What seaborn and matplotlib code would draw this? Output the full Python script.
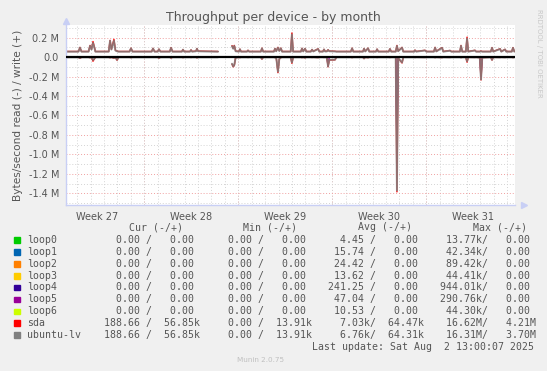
import numpy as np
import pandas as pd
import matplotlib
matplotlib.use("Agg")
import matplotlib.pyplot as plt
import seaborn as sns
from matplotlib.patches import Rectangle
from matplotlib.ticker import FixedLocator, MultipleLocator, FuncFormatter

nan = np.nan

# time in days (day 0 = start of week 27), values in kB/s
days = [1.17, 2.10, 2.21, 2.32, 2.85, 2.96, 3.07, 3.18, 3.27, 3.36,
        4.35, 4.45, 4.55, 4.74, 4.85, 4.97, 5.08, 5.90, 6.01, 6.12,
        7.55, 7.65, 7.76, 8.00, 8.09, 8.20, 8.90, 8.99, 9.10, 9.80,
        9.88, 9.97, 10.40, 10.48, 10.56, 10.85, 10.92, 11.00, 11.60, 12.49,
        12.60, 13.45, 13.53, 13.62, 13.70, 13.80, 14.05, 14.12, 14.20, 14.65,
        14.72, 14.80, 15.68, 15.76, 15.85, 16.65, 16.73, 16.82, 16.95, 17.05,
        17.17, 17.26, 17.90, 17.99, 18.08, 18.66, 18.74, 18.83, 18.97, 19.06,
        19.40, 19.49, 19.58, 19.94, 20.03, 20.30, 20.38, 20.46, 20.60, 20.68,
        20.77, 21.20, 21.30, 22.38, 22.47, 22.56, 23.28, 23.36, 23.45, 23.66,
        23.75, 24.25, 24.33, 24.42, 25.20, 25.29, 25.38, 25.72, 25.81, 25.90,
        26.19, 26.28, 27.10, 27.15, 27.25, 27.90, 28.00, 28.56, 28.65, 28.74,
        29.17, 29.26, 29.76, 29.86, 30.50, 30.58, 30.67, 30.94, 31.03, 31.12,
        31.62, 31.70, 31.98, 32.07, 32.16, 32.80, 32.89, 32.98, 33.49, 33.58,
        33.86, 33.95, 34.36, 34.45, 34.55]

sda_write = [58, 58, 100, 58, 58, 120, 80, 160, 110, 58,
             58, 172, 80, 182, 70, 62, 58, 58, 92, 58,
             58, 90, 58, 58, 82, 58, 58, 98, 58, 58,
             78, 58, 58, 74, 58, 62, 88, 62, 60, 58,
             nan, nan, 118, 90, 120, 62, 58, 82, 58, 58,
             70, 58, 58, 92, 58, 58, 88, 62, 100, 65,
             92, 58, 58, 248, 58, 58, 90, 60, 88, 58,
             58, 78, 60, 85, 58, 58, 80, 60, 60, 75,
             62, 60, 58, 58, 92, 58, 58, 88, 60, 92,
             58, 58, 82, 58, 58, 85, 58, 58, 120, 62,
             100, 58, 58, 72, 58, 70, 58, 58, 100, 60,
             98, 58, 68, 58, 58, 120, 58, 58, 205, 58,
             70, 58, 58, 62, 58, 58, 98, 58, 85, 58,
             80, 58, 58, 98, 58]

sda_read = [-2, -2, -12, -2, -2, -5, -2, -42, -20, -2,
            -2, -5, -2, -10, -2, -32, -2, -2, -4, -2,
            -2, -2, -2, -2, -10, -2, -2, -8, -2, -2,
            -4, -2, -2, -3, -2, -2, -6, -2, -2, -2,
            nan, nan, -72, -100, -85, -5, -2, -4, -2, -2,
            -3, -2, -2, -20, -2, -2, -4, -2, -160, -20,
            -4, -2, -2, -64, -2, -2, -4, -2, -6, -2,
            -2, -3, -2, -4, -2, -2, -3, -2, -4, -100,
            -30, -28, -2, -2, -4, -2, -2, -15, -2, -5,
            -2, -2, -3, -2, -2, -3, -2, -2, -1385, -10,
            -60, -2, -2, -3, -2, -3, -2, -2, -4, -2,
            -4, -2, -3, -2, -2, -4, -2, -2, -52, -2,
            -3, -2, -5, -235, -5, -2, -30, -2, -3, -2,
            -3, -2, -2, -4, -2]

lv_write = [56, 56, 96, 56, 56, 115, 78, 145, 105, 56,
            56, 168, 78, 168, 68, 60, 56, 56, 90, 56,
            56, 88, 56, 56, 80, 56, 56, 95, 56, 56,
            76, 56, 56, 72, 56, 60, 86, 60, 58, 56,
            nan, nan, 112, 86, 114, 60, 56, 80, 56, 56,
            68, 56, 56, 90, 56, 56, 86, 60, 96, 63,
            90, 56, 56, 232, 56, 56, 88, 58, 86, 56,
            56, 76, 58, 83, 56, 56, 78, 58, 58, 73,
            60, 58, 56, 56, 90, 56, 56, 86, 58, 90,
            56, 56, 80, 56, 56, 83, 56, 56, 115, 60,
            97, 56, 56, 70, 56, 68, 56, 56, 97, 58,
            95, 56, 66, 56, 56, 116, 56, 56, 190, 56,
            68, 56, 56, 60, 56, 56, 95, 56, 83, 56,
            78, 56, 56, 95, 56]

lv_read = [-2, -2, -10, -2, -2, -5, -2, -30, -18, -2,
           -2, -5, -2, -8, -2, -28, -2, -2, -4, -2,
           -2, -2, -2, -2, -9, -2, -2, -7, -2, -2,
           -4, -2, -2, -3, -2, -2, -6, -2, -2, -2,
           nan, nan, -68, -95, -80, -5, -2, -4, -2, -2,
           -3, -2, -2, -18, -2, -2, -4, -2, -150, -18,
           -4, -2, -2, -55, -2, -2, -4, -2, -6, -2,
           -2, -3, -2, -4, -2, -2, -3, -2, -4, -95,
           -28, -26, -2, -2, -4, -2, -2, -14, -2, -5,
           -2, -2, -3, -2, -2, -3, -2, -2, -1370, -9,
           -55, -2, -2, -3, -2, -3, -2, -2, -4, -2,
           -4, -2, -3, -2, -2, -4, -2, -2, -42, -2,
           -3, -2, -5, -230, -5, -2, -28, -2, -3, -2,
           -3, -2, -2, -4, -2]

loop4_days = [25.72, 25.81, 25.90]
loop4_read = [0, -944, 0]
loop5_days = [20.60, 20.68, 20.77, 31.98, 32.07, 32.16]
loop5_read = [0, -90, 0, 0, -200, 0]

week_starts = [7, 14, 21, 28]
week_mid = [3.5, 10.5, 17.5, 24.5, 31.5]
week_labels = ["Week 27", "Week 28", "Week 29", "Week 30", "Week 31"]

names = ["loop0", "loop1", "loop2", "loop3", "loop4", "loop5", "loop6", "sda", "ubuntu-lv"]
colors = ["#00cc00", "#0066b3", "#ff8000", "#ffcc00", "#330099", "#990099", "#ccff00", "#ff0000", "#808080"]
cur_read = ["0.00", "0.00", "0.00", "0.00", "0.00", "0.00", "0.00", "188.66", "188.66"]
cur_write = ["0.00", "0.00", "0.00", "0.00", "0.00", "0.00", "0.00", "56.85k", "56.85k"]
min_read = ["0.00", "0.00", "0.00", "0.00", "0.00", "0.00", "0.00", "0.00", "0.00"]
min_write = ["0.00", "0.00", "0.00", "0.00", "0.00", "0.00", "0.00", "13.91k", "13.91k"]
avg_read = ["4.45", "15.74", "24.42", "13.62", "241.25", "47.04", "10.53", "7.03k", "6.76k"]
avg_write = ["0.00", "0.00", "0.00", "0.00", "0.00", "0.00", "0.00", "64.47k", "64.31k"]
max_read = ["13.77k", "42.34k", "89.42k", "44.41k", "944.01k", "290.76k", "44.30k", "16.62M", "16.31M"]
max_write = ["0.00", "0.00", "0.00", "0.00", "0.00", "0.00", "0.00", "4.21M", "3.70M"]

df = pd.DataFrame({"day": days, "sda_w": sda_write, "sda_r": sda_read,
                   "lv_w": lv_write, "lv_r": lv_read})
df[["sda_w", "sda_r", "lv_w", "lv_r"]] *= 1000
df["seg"] = df["sda_w"].isna().cumsum()
df = df.dropna()

sns.set_theme(style="white")
plt.rcParams["font.family"] = ["DejaVu Sans"]

W, H = 547, 371
fig = plt.figure(figsize=(W / 100, H / 100), dpi=100, facecolor="#f0f0f0")
ax = fig.add_axes([66 / W, 1 - 205 / H, (515 - 66) / W, (205 - 25) / H])
ax.set_facecolor("white")

# loop devices: only rare read spikes are visible
sns.lineplot(x=loop4_days, y=[v * 1000 for v in loop4_read], color=colors[4], lw=1, ax=ax)
l5 = pd.DataFrame({"day": loop5_days, "v": [v * 1000 for v in loop5_read], "seg": [0, 0, 0, 1, 1, 1]})
sns.lineplot(data=l5, x="day", y="v", units="seg", estimator=None, color=colors[5], lw=1, ax=ax)

for col, c, lw in [("sda_w", colors[7], 1.0), ("sda_r", colors[7], 1.0),
                   ("lv_w", colors[8], 1.4), ("lv_r", colors[8], 1.4)]:
    sns.lineplot(data=df, x="day", y=col, units="seg", estimator=None, color=c, lw=lw,
                 alpha=0.85 if c == colors[8] else 1, ax=ax)

ax.axhline(0, color="black", lw=1.6, zorder=5)

ax.set_xlim(1.17, 34.6)
ax.set_ylim(-1.52e6, 0.33e6)

ax.xaxis.set_major_locator(FixedLocator(week_mid))
ax.set_xticklabels(week_labels)
ax.xaxis.set_minor_locator(MultipleLocator(1))
ax.yaxis.set_major_locator(MultipleLocator(0.2e6))
ax.yaxis.set_minor_locator(MultipleLocator(0.1e6))
ax.yaxis.set_major_formatter(FuncFormatter(lambda v, p: "0.0" if abs(v) < 1 else f"{v / 1e6:.1f} M"))

ax.grid(False)
ax.grid(which="minor", axis="both", color="#d4d4d4", lw=0.7, ls=(0, (1, 2)))
ax.grid(which="major", axis="y", color="#f0a0a0", lw=0.7, ls=(0, (1, 2)))
for d in week_starts:
    ax.axvline(d, color="#f0a0a0", lw=0.7, ls=(0, (1, 2)), zorder=0.5)
ax.set_axisbelow(True)

ax.tick_params(axis="x", which="major", length=0, pad=5, labelsize=7, labelcolor="#555555")
ax.tick_params(axis="x", which="minor", length=2, color="#cccccc")
ax.tick_params(axis="y", which="major", length=2, color="#f0a0a0", pad=3, labelsize=7, labelcolor="#555555")
ax.tick_params(axis="y", which="minor", length=2, color="#cccccc")
ax.set_xlabel("")
ax.set_ylabel("Bytes/second read (-) / write (+)", fontsize=7.6, color="#555555", labelpad=4)

for s in ["top", "right"]:
    ax.spines[s].set_visible(False)
for s in ["left", "bottom"]:
    ax.spines[s].set_color("#c8cff5")
    ax.spines[s].set_linewidth(1)
ax.plot(0, 1.02, marker="^", ms=4, color="#c8cff5", transform=ax.transAxes, clip_on=False)
ax.plot(1.02, 0, marker=">", ms=4, color="#c8cff5", transform=ax.transAxes, clip_on=False)


def px(x, y):
    return x / W, 1 - y / H


fig.text(*px(273.5, 18), "Throughput per device - by month", ha="center", va="center",
         fontsize=9, color="#555555")
fig.text(*px(539, 53), "RRDTOOL / TOBI OETIKER", rotation=270, ha="center", va="center",
         fontsize=5, color="#c8c8c8")
fig.text(*px(261, 360), "Munin 2.0.75", ha="center", va="center", fontsize=5.2, color="#c0c0c0")

mono = dict(family="DejaVu Sans Mono", fontsize=7.1, color="#555555", va="center", ha="left")


def fmt(s):
    return s.rjust(7) if s[-1].isalpha() else (s + " ").rjust(7)


col_x = [104, 215.8, 328.1, 440]
head_x = [129, 243.3, 358.3, 472.7]
for hx, h in zip(head_x, ["Cur (-/+)", "Min (-/+)", "Avg (-/+)", "Max (-/+)"]):
    fig.text(*px(hx, 227.5), h, **mono)

for i, name in enumerate(names):
    y = 240 + 11.87 * i
    fig.patches.append(Rectangle(px(14.3, y + 3), 5.7 / W, 5.7 / H, transform=fig.transFigure,
                                 color=colors[i], figure=fig))
    fig.text(*px(27, y), name, **mono)
    pairs = [(cur_read, cur_write), (min_read, min_write), (avg_read, avg_write), (max_read, max_write)]
    for cx, (r, w) in zip(col_x, pairs):
        fig.text(*px(cx, y), fmt(r[i]) + "/ " + fmt(w[i]), **mono)

fig.text(*px(311.7, 347.5), "Last update: Sat Aug  2 13:00:07 2025", **mono)

fig.savefig("out.png", dpi=100, facecolor=fig.get_facecolor())
